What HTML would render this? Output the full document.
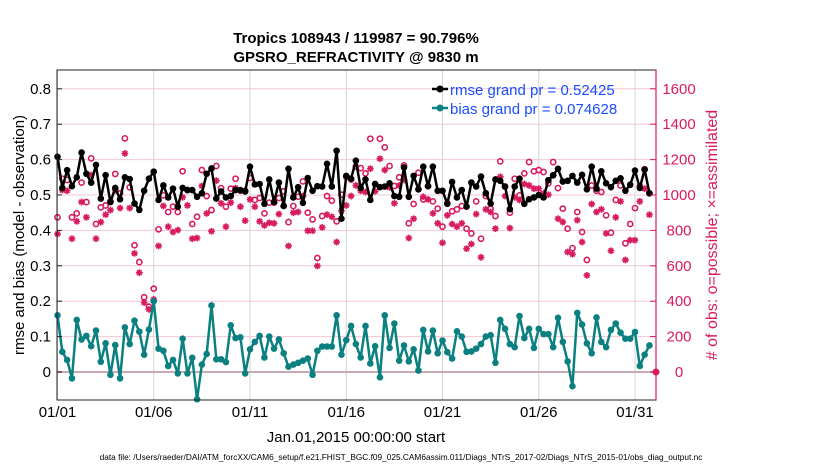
<!DOCTYPE html>
<html><head><meta charset="utf-8"><style>
body{margin:0;background:#fff;}
svg{display:block;font-family:"Liberation Sans",sans-serif;}
</style></head><body>
<svg id="chart" width="830" height="470" viewBox="0 0 830 470">
<text x="356" y="43" font-size="15" font-weight="bold" text-anchor="middle">Tropics 108943 / 119987 = 90.796%</text>
<text x="356" y="62" font-size="15" font-weight="bold" text-anchor="middle">GPSRO_REFRACTIVITY @ 9830 m</text>
<g id="grid"></g>
<g id="marks"></g>
<rect x="57" y="70" width="599" height="330" fill="none" stroke="#222" stroke-width="1"/>
<line x1="656" y1="70" x2="656" y2="400" stroke="#d81b60" stroke-width="1.2"/>
<g id="axes"></g>
<text transform="translate(24,235) rotate(-90)" font-size="15" text-anchor="middle">rmse and bias (model - observation)</text>
<text transform="translate(717,235) rotate(-90)" font-size="16" text-anchor="middle" fill="#d81b60"># of obs: o=possible; ×=assimilated</text>
<text x="356" y="442" font-size="15" text-anchor="middle">Jan.01,2015 00:00:00 start</text>
<text x="401" y="460" font-size="8.3" text-anchor="middle">data file: /Users/raeder/DAI/ATM_forcXX/CAM6_setup/f.e21.FHIST_BGC.f09_025.CAM6assim.011/Diags_NTrS_2017-02/Diags_NTrS_2015-01/obs_diag_output.nc</text>
<g>
<line x1="432" y1="89" x2="448" y2="89" stroke="#000" stroke-width="2.5"/>
<circle cx="440" cy="89" r="3.5" fill="#000"/>
<text x="450" y="95" font-size="15" fill="#1a4dff">rmse grand pr = 0.52425</text>
<line x1="432" y1="108" x2="448" y2="108" stroke="#0a8080" stroke-width="2.5"/>
<circle cx="440" cy="108" r="3.5" fill="#0a8080"/>
<text x="450" y="114" font-size="15" fill="#1a4dff">bias grand pr = 0.074628</text>
</g>
</svg>
<script>
const rmse=[0.608,0.52,0.57,0.525,0.55,0.62,0.56,0.535,0.585,0.49,0.556,0.48,0.52,0.488,0.55,0.545,0.476,0.458,0.512,0.546,0.566,0.486,0.527,0.493,0.518,0.467,0.52,0.514,0.514,0.495,0.505,0.56,0.575,0.49,0.51,0.493,0.497,0.514,0.514,0.51,0.58,0.53,0.531,0.475,0.544,0.48,0.535,0.469,0.574,0.493,0.522,0.478,0.548,0.512,0.525,0.524,0.588,0.524,0.625,0.433,0.554,0.546,0.597,0.52,0.544,0.486,0.531,0.522,0.524,0.533,0.497,0.495,0.578,0.495,0.554,0.516,0.58,0.525,0.58,0.512,0.512,0.475,0.537,0.493,0.514,0.467,0.535,0.524,0.552,0.505,0.476,0.544,0.54,0.524,0.46,0.524,0.546,0.475,0.488,0.493,0.5,0.493,0.542,0.556,0.574,0.538,0.54,0.554,0.535,0.557,0.516,0.58,0.518,0.567,0.533,0.522,0.54,0.547,0.512,0.529,0.569,0.52,0.572,0.505];
const bias=[0.16,0.057,0.034,-0.018,0.147,0.092,0.102,0.073,0.117,0.029,0.081,-0.008,0.076,-0.018,0.126,0.079,0.145,0.114,0.049,0.12,0.2,0.066,0.06,0.017,0.034,-0.004,0.094,-0.004,0.04,-0.077,0.021,0.051,0.188,0.036,0.036,0.028,0.132,0.096,0.098,-0.004,0.064,0.085,0.102,0.041,0.1,0.066,0.092,0.053,0.015,0.021,0.026,0.032,0.038,-0.008,0.06,0.072,0.072,0.072,0.16,0.049,0.09,0.13,0.079,0.041,0.13,0.024,0.073,-0.015,0.16,0.068,0.137,0.032,0.075,0.03,0.064,0.004,0.119,0.058,0.117,0.053,0.089,0.056,0.038,0.115,0.1,0.057,0.058,0.066,0.079,0.1,0.104,0.026,0.147,0.122,0.079,0.07,0.158,0.096,0.122,0.068,0.122,0.107,0.107,0.07,0.153,0.085,0.03,-0.04,0.167,0.134,0.081,0.053,0.154,0.085,0.07,0.119,0.137,0.111,0.094,0.094,0.113,0.017,0.049,0.075];
const possible=[874,1092,1085,874,896,1070,960,1207,836,930,941,964,1119,1009,1320,1043,716,621,422,369,471,806,998,904,934,904,1134,1028,836,877,1141,994,915,1164,1039,934,1036,1092,1024,1024,1096,972,983,896,957,957,983,1021,847,938,990,1077,900,862,644,881,994,968,851,1002,1103,1088,1160,1152,1122,1318,1062,1318,1269,1164,1051,1100,1167,840,949,1126,975,1051,964,923,821,953,908,919,938,810,783,964,753,994,923,881,1190,1047,900,1092,998,1122,1186,1134,1141,1130,1066,1186,1039,923,810,700,904,791,633,1054,1024,1017,885,787,972,1054,727,836,926,1051,1145,1009];
const assimilated=[780,1028,1024,753,851,960,874,1113,753,847,889,915,1028,926,1235,926,670,561,392,354,410,712,938,821,791,802,987,941,753,757,1051,896,795,1081,953,821,957,1039,934,855,975,934,851,828,843,840,892,938,712,900,904,994,798,798,599,817,889,877,734,911,941,994,1054,1024,1017,1149,1021,1205,1141,1043,953,1054,1085,757,866,1032,990,975,896,840,730,885,836,821,840,697,723,892,648,919,904,810,1103,994,813,987,972,1062,1054,1036,1036,1009,1002,1111,866,847,678,666,858,734,546,949,904,919,783,685,874,964,633,745,745,964,1036,889];
const leftTicks=[0,0.1,0.2,0.3,0.4,0.5,0.6,0.7,0.8];
const leftTickLabels=["0","0.1","0.2","0.3","0.4","0.5","0.6","0.7","0.8"];
const rightTicks=[0,200,400,600,800,1000,1200,1400,1600];
const dateTicks=[0,5,10,15,20,25,30];
const dateLabels=["01/01","01/06","01/11","01/16","01/21","01/26","01/31"];

const NS="http://www.w3.org/2000/svg";
const X0=57.5,PXDAY=19.25,Y0=372,PXV=354;
function xDay(d){return X0+d*PXDAY;}
function xIdx(i){return xDay(i*0.25);}
function yL(v){return Y0-v*PXV;}
function yR(c){return Y0-c/2000*PXV;}
function mk(tag,attrs,parent){const e=document.createElementNS(NS,tag);for(const k in attrs)e.setAttribute(k,attrs[k]);parent.appendChild(e);return e;}
const grid=document.getElementById('grid'),marks=document.getElementById('marks'),axes=document.getElementById('axes');

leftTicks.forEach((v,k)=>{
  if(v!==0){const g=mk('line',{x1:57,x2:656,y1:yL(v),y2:yL(v),stroke:'#f2c6d6','stroke-width':1},grid);
  
  }
  const t=mk('line',{x1:57,x2:62,y1:yL(v),y2:yL(v),stroke:'#222'},axes);
  
  
  const l=mk('text',{x:51,y:yL(v)+5,'font-size':15,'text-anchor':'end'},axes);
  l.textContent=leftTickLabels[k];
  
  
});
rightTicks.forEach(c=>{
  const t=mk('line',{x1:650,x2:656,y1:yR(c),y2:yR(c),stroke:'#d81b60'},axes);
  
  
  const l=mk('text',{x:679,y:yR(c)+5,'font-size':15,fill:'#d81b60','text-anchor':'middle'},axes);
  l.textContent=String(c);
  
  
});
dateTicks.forEach((d,k)=>{
  const g=mk('line',{x1:xDay(d),x2:xDay(d),y1:70,y2:400,stroke:'#d4d4d4'},grid);
  
  
  const l=mk('text',{x:xDay(d),y:417,'font-size':15,'text-anchor':'middle'},axes);
  l.textContent=dateLabels[k];
  
  
});
const zl=mk('line',{x1:57,x2:656,y1:yL(0),y2:yL(0),stroke:'#c8a8b2','stroke-width':2},grid);



possible.forEach((c,i)=>{
  const e=mk('circle',{cx:xIdx(i),cy:yR(c),r:2.6,fill:'none',stroke:'#d81b60','stroke-width':1.6},marks);
  
  
});
assimilated.forEach((c,i)=>{
  const x=xIdx(i),y=yR(c),r=3.4;
  const e=mk('path',{d:`M${x-r} ${y}H${x+r}M${x} ${y-r}V${y+r}M${x-r*0.7} ${y-r*0.7}L${x+r*0.7} ${y+r*0.7}M${x-r*0.7} ${y+r*0.7}L${x+r*0.7} ${y-r*0.7}`,stroke:'#d81b60','stroke-width':1.6},marks);
  
  
});
function series(arr,color,name){
  const p=mk('polyline',{points:arr.map((v,i)=>xIdx(i)+','+yL(v)).join(' '),fill:'none',stroke:color,'stroke-width':2.5,'stroke-linejoin':'round'},marks);
  
  
  arr.forEach((v,i)=>{
    const c=mk('circle',{cx:xIdx(i),cy:yL(v),r:3.3,fill:color},marks);
    
    
  });
}
series(rmse,'#000','rmse');
series(bias,'#0a8080','bias');
const zm=mk('circle',{cx:656,cy:yR(0),r:3.5,fill:'#d81b60'},marks);


</script>
</body></html>
